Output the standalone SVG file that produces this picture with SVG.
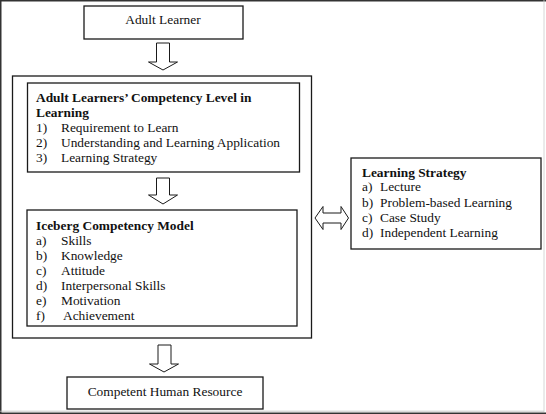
<svg xmlns="http://www.w3.org/2000/svg" width="546" height="414" viewBox="0 0 546 414">
<style>
.box{fill:#fff;stroke:#1a1a1a;stroke-width:1.3}
.arr{fill:#fff;stroke:#1a1a1a;stroke-width:1}
text{font-family:"Liberation Serif","Times New Roman",serif;font-size:13.4px;fill:#111}
.b{font-weight:bold}
.c{text-anchor:middle}
</style>
<rect x="0" y="0" width="546" height="414" fill="#fff"/>
<g id="frame">
<rect x="0" y="0" width="546" height="1.5" fill="#333"/>
<rect x="0" y="0" width="1.5" height="414" fill="#333"/>
<rect x="0" y="412.5" width="546" height="1.5" fill="#333"/>
<line x1="0" y1="411.2" x2="544" y2="411.2" stroke="#bbb" stroke-width="0.8"/>
<line x1="544" y1="0" x2="544" y2="412" stroke="#ccc" stroke-width="0.8"/>
</g>
<g id="adult-learner">
<rect class="box" x="84" y="6" width="159" height="33"/>
<text class="c" x="163" y="24">Adult Learner</text>
</g>
<g id="outer-box">
<rect class="box" x="12.5" y="76" width="299" height="262"/>
</g>
<g id="competency-level">
<rect class="box" x="27.5" y="83" width="272" height="89"/>
<text class="b" x="36" y="102">Adult Learners’ Competency Level in</text>
<text class="b" x="36" y="117">Learning</text>
<text x="36" y="132">1)</text><text x="61" y="132">Requirement to Learn</text>
<text x="36" y="147">2)</text><text x="61" y="147">Understanding and Learning Application</text>
<text x="36" y="162">3)</text><text x="61" y="162">Learning Strategy</text>
</g>
<g id="iceberg-model">
<rect class="box" x="27" y="210" width="270" height="116"/>
<text class="b" x="36" y="230">Iceberg Competency Model</text>
<text x="36" y="245">a)</text><text x="61" y="245">Skills</text>
<text x="36" y="260">b)</text><text x="61" y="260">Knowledge</text>
<text x="36" y="275">c)</text><text x="61" y="275">Attitude</text>
<text x="36" y="290">d)</text><text x="61" y="290">Interpersonal Skills</text>
<text x="36" y="305">e)</text><text x="61" y="305">Motivation</text>
<text x="36" y="320">f)</text><text x="63" y="320">Achievement</text>
</g>
<g id="learning-strategy">
<rect class="box" x="351" y="158" width="190" height="91"/>
<text class="b" x="362" y="177">Learning Strategy</text>
<text x="362" y="191">a)</text><text x="380" y="191">Lecture</text>
<text x="362" y="207">b)</text><text x="380" y="207">Problem-based Learning</text>
<text x="362" y="222">c)</text><text x="380" y="222">Case Study</text>
<text x="362" y="237">d)</text><text x="380" y="237">Independent Learning</text>
</g>
<g id="competent-hr">
<rect class="box" x="67" y="377" width="196" height="32"/>
<text class="c" x="165" y="396">Competent Human Resource</text>
</g>
<g id="connectors">
<path class="arr" d="M156.5,43 H169.5 V62 H177.5 L163,70 L148.5,62 H156.5 Z"/>
<path class="arr" d="M156.5,178 H169.5 V195 H177.5 L163,204 L148.5,195 H156.5 Z"/>
<path class="arr" d="M158,345 H171 V364 H178.5 L164,372 L149.5,364 H158 Z"/>
<path class="arr" d="M315,218 L323,206.5 V213 H341 V206.5 L348.5,218 L341,229.5 V223 H323 V229.5 Z"/>
</g>
</svg>
